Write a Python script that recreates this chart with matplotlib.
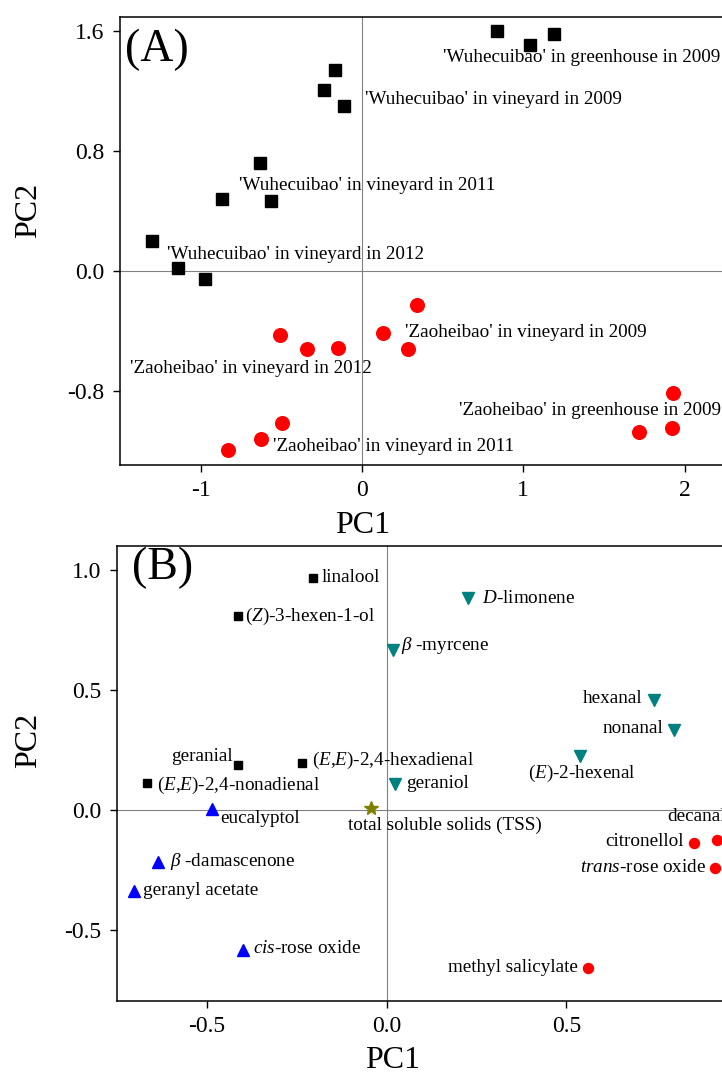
import matplotlib
matplotlib.use('Agg')
import matplotlib.pyplot as plt

plt.rcParams['font.family'] = ['Liberation Serif', 'DejaVu Serif']
plt.rcParams['mathtext.fontset'] = 'custom'
plt.rcParams['mathtext.rm'] = 'Liberation Serif'
plt.rcParams['mathtext.it'] = 'Liberation Serif:italic'
plt.rcParams['axes.unicode_minus'] = False

# ---- panel A: sample scores ----
wu_x = [0.837, 1.04, 1.19, -0.167, -0.236, -0.112, -0.632, -0.868, -0.564, -1.30, -1.14, -0.973]
wu_y = [1.60, 1.507, 1.58, 1.34, 1.207, 1.10, 0.72, 0.48, 0.467, 0.20, 0.02, -0.053]
zao_x = [-0.508, -0.341, -0.149, -0.496, -0.626, -0.831, 0.341, 0.130, 0.285, 1.928, 1.717, 1.922]
zao_y = [-0.427, -0.52, -0.513, -1.013, -1.12, -1.193, -0.227, -0.413, -0.52, -0.813, -1.073, -1.047]

group_labels = ["'Wuhecuibao' in greenhouse in 2009", "'Wuhecuibao' in vineyard in 2009",
                "'Wuhecuibao' in vineyard in 2011", "'Wuhecuibao' in vineyard in 2012",
                "'Zaoheibao' in vineyard in 2009", "'Zaoheibao' in vineyard in 2012",
                "'Zaoheibao' in greenhouse in 2009", "'Zaoheibao' in vineyard in 2011"]
group_pos = [(0.502, 1.42), (0.019, 1.14), (-0.763, 0.573), (-1.209, 0.107),
             (0.267, -0.407), (-1.438, -0.653), (0.601, -0.933), (-0.552, -1.167)]

# ---- panel B: loadings ----
sq_names = [r'linalool', r'$\mathit{(Z)}$-3-hexen-1-ol', r'geranial',
            r'$\mathit{(E}$,$\mathit{E)}$-2,4-hexadienal', r'$\mathit{(E}$,$\mathit{E)}$-2,4-nonadienal']
sq_x = [-0.205, -0.413, -0.413, -0.235, -0.665]
sq_y = [0.967, 0.808, 0.188, 0.196, 0.1125]

dn_names = [r'$\mathit{D}$-limonene', r'$\mathit{β}$ -myrcene', r'hexanal', r'nonanal',
            r'$\mathit{(E)}$-2-hexenal', r'geraniol']
dn_x = [0.226, 0.018, 0.743, 0.798, 0.537, 0.023]
dn_y = [0.883, 0.667, 0.458, 0.333, 0.225, 0.108]

up_names = [r'eucalyptol', r'$\mathit{β}$ -damascenone', r'geranyl acetate', r'$\mathit{cis}$-rose oxide']
up_x = [-0.485, -0.635, -0.701, -0.40]
up_y = [0.004, -0.217, -0.338, -0.583]

ci_names = [r'decanal', r'citronellol', r'$\mathit{trans}$-rose oxide', r'methyl salicylate']
ci_x = [0.918, 0.855, 0.912, 0.56]
ci_y = [-0.125, -0.1375, -0.24, -0.66]

tss_name = 'total soluble solids (TSS)'
tss_x = [-0.044]
tss_y = [0.008]

# label placement: (dx px, dy px, ha)
sq_off = [(9, 0, 'left'), (7, 0, 'left'), (-5, 8, 'right'), (10, 3, 'left'), (10, -2, 'left')]
dn_off = [(14, 0, 'left'), (8, 4, 'left'), (-11, 2, 'right'), (-10, 2, 'right'), (2, -17, 'center'), (11, 1, 'left')]
up_off = [(8, -9, 'left'), (12, 1, 'left'), (9, 1, 'left'), (10, 1, 'left')]
ci_off = [(-50, 23, 'left'), (-10, 1, 'right'), (-9, 0, 'right'), (-10, 1, 'right')]

fig = plt.figure(figsize=(7.22, 10.77), dpi=100)

def style_axes(ax):
    for s in ['left', 'bottom', 'top', 'right']:
        ax.spines[s].set_linewidth(1.1)
    ax.tick_params(direction='out', length=5, width=1, labelsize=17, pad=6,
                   top=False, right=False)
    ax.axhline(0, color='#808080', lw=0.8, zorder=0)
    ax.axvline(0, color='#808080', lw=0.8, zorder=0)

# panel A
ax = fig.add_axes([120/722, 612/1077, 613/722, 448/1077])
style_axes(ax)
ax.plot(wu_x, wu_y, 's', color='black', ms=8.6, ls='none')
ax.plot(zao_x, zao_y, 'o', color='red', ms=9.8, ls='none')
for lab, (tx, ty) in zip(group_labels, group_pos):
    ax.text(tx, ty, lab, fontsize=13.8, ha='left', va='center')
ax.set_xlim(-1.5, 2.3)
ax.set_ylim(-1.293, 1.693)
ax.set_xticks([-1, 0, 1, 2])
ax.set_xticklabels(['-1', '0', '1', '2'])
ax.set_yticks([-0.8, 0.0, 0.8, 1.6])
ax.set_yticklabels(['-0.8', '0.0', '0.8', '1.6'])
ax.set_xlabel('PC1', fontsize=23)
ax.set_ylabel('PC2', fontsize=23)
ax.xaxis.set_label_coords((363 - 120) / 613, -(511 - 465) / 448)
ax.yaxis.set_label_coords(-(120 - 43) / 613, (465 - 210) / 448)
ax.text((125 - 120) / 613, (465 - 50) / 448, '(A)', transform=ax.transAxes,
        fontsize=33, ha='left', va='center')

# panel B
bx = fig.add_axes([117/722, 76/1077, 615/722, 455/1077])
style_axes(bx)

def draw_group(xs, ys, names, offs, marker, color, ms):
    bx.plot(xs, ys, marker, color=color, ms=ms, ls='none')
    for x, y, n, (dx, dy, ha) in zip(xs, ys, names, offs):
        bx.annotate(n, (x, y), xytext=(dx, dy), textcoords='offset pixels',
                    ha=ha, va='center', fontsize=13.8)

draw_group(sq_x, sq_y, sq_names, sq_off, 's', 'black', 5.5)
draw_group(dn_x, dn_y, dn_names, dn_off, 'v', '#008080', 9)
draw_group(up_x, up_y, up_names, up_off, '^', '#0000ff', 9)
draw_group(ci_x, ci_y, ci_names, ci_off, 'o', '#ff0000', 7.2)
bx.plot(tss_x, tss_y, '*', color='#808000', ms=10, ls='none')
bx.annotate(tss_name, (tss_x[0], tss_y[0]), xytext=(-23, -17), textcoords='offset pixels',
            ha='left', va='center', fontsize=13.8)

bx.set_xlim(-0.749, 0.96)
bx.set_ylim(-0.796, 1.10)
bx.set_xticks([-0.5, 0.0, 0.5])
bx.set_xticklabels(['-0.5', '0.0', '0.5'])
bx.set_yticks([-0.5, 0.0, 0.5, 1.0])
bx.set_yticklabels(['-0.5', '0.0', '0.5', '1.0'])
bx.set_xlabel('PC1', fontsize=23)
bx.set_ylabel('PC2', fontsize=23)
bx.xaxis.set_label_coords((393 - 117) / 615, -(1046 - 1001) / 455)
bx.yaxis.set_label_coords(-(117 - 43) / 615, (1001 - 740) / 455)
bx.text((132 - 117) / 615, (1001 - 568) / 455, '(B)', transform=bx.transAxes,
        fontsize=33, ha='left', va='center')

fig.savefig('out.png', dpi=100)
